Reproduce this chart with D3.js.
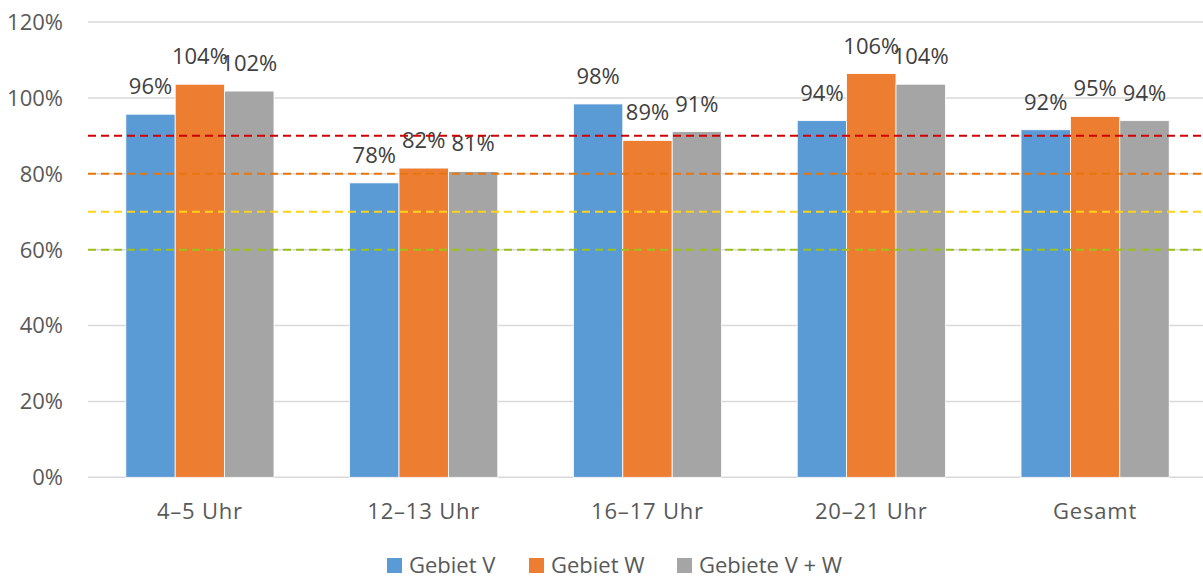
<!DOCTYPE html>
<html lang="de">
<head>
  <meta charset="UTF-8">
  <title>Auslastung nach Zeitfenster</title>
  <script src="https://d3js.org/d3.v7.min.js"></script>
  <style>
    body { margin: 0; background: #fff; }
    text { font-family: "Open Sans", sans-serif; }
    .grid line { stroke: #d9d9d9; stroke-width: 1.5px; }
    .label { fill: #404040; font-size: 22px; }
    .tick-label { fill: #595959; font-size: 22px; }
  </style>
</head>
<body>
  <svg id="chart" width="1203" height="579"></svg>

  <script>
    // Data
    const categories = ["4–5 Uhr", "12–13 Uhr", "16–17 Uhr", "20–21 Uhr", "Gesamt"];
    const seriesNames = ["Gebiet V", "Gebiet W", "Gebiete V + W"];
    const gebietV = [95.7, 77.6, 98.4, 94.0, 91.6];
    const gebietW = [103.6, 81.5, 88.8, 106.4, 95.1];
    const gebieteVW = [101.8, 80.6, 91.1, 103.6, 94.0];
    const yTicks = [0, 20, 40, 60, 80, 100, 120];
    const thresholds = [90, 80, 70, 60];

    const seriesColors = ["#5b9bd5", "#ed7d31", "#a5a5a5"];
    const thresholdColors = ["#d00000", "#e8760e", "#ffd21a", "#9cc21a"];

    const values = [gebietV, gebietW, gebieteVW];
    const rows = categories.map((c, i) => ({
      cat: c,
      vals: seriesNames.map((s, j) => ({ key: s, value: values[j][i], idx: j }))
    }));

    const width = 1203, height = 579;
    const margin = { top: 22, right: -4, bottom: 102, left: 88 };

    const svg = d3.select("#chart");

    const x0 = d3.scaleBand()
      .domain(categories)
      .range([margin.left, width - margin.right])
      .paddingInner(0.338)
      .paddingOuter(0.169);

    const x1 = d3.scaleBand()
      .domain(seriesNames)
      .range([0, x0.bandwidth()]);

    const y = d3.scaleLinear()
      .domain([0, 120])
      .range([height - margin.bottom + 0.3, margin.top]);

    // gridlines
    svg.append("g")
      .attr("class", "grid")
      .selectAll("line")
      .data(yTicks)
      .join("line")
      .attr("x1", margin.left)
      .attr("x2", width)
      .attr("y1", d => y(d))
      .attr("y2", d => y(d));

    // y axis labels
    svg.append("g")
      .selectAll("text")
      .data(yTicks)
      .join("text")
      .attr("class", "tick-label")
      .attr("x", 63)
      .attr("y", d => y(d))
      .attr("dy", "0.36em")
      .attr("text-anchor", "end")
      .text(d => d + "%");

    // bars
    const groups = svg.append("g")
      .selectAll("g")
      .data(rows)
      .join("g")
      .attr("transform", d => `translate(${x0(d.cat)},0)`);

    groups.selectAll("rect")
      .data(d => d.vals)
      .join("rect")
      .attr("x", d => x1(d.key))
      .attr("width", x1.bandwidth())
      .attr("y", d => y(d.value))
      .attr("height", d => y(0) - y(d.value))
      .attr("fill", d => seriesColors[d.idx])
      .attr("stroke", "#fff")
      .attr("stroke-width", 0.8);

    // threshold lines
    svg.append("g")
      .selectAll("line")
      .data(thresholds)
      .join("line")
      .attr("x1", margin.left)
      .attr("x2", width)
      .attr("y1", d => y(d))
      .attr("y2", d => y(d))
      .attr("stroke", (d, i) => thresholdColors[i])
      .attr("stroke-width", 2)
      .attr("stroke-dasharray", "8,5");

    // data labels
    groups.selectAll("text")
      .data(d => d.vals)
      .join("text")
      .attr("class", "label")
      .attr("x", d => x1(d.key) + x1.bandwidth() / 2)
      .attr("y", d => y(d.value) - 20)
      .attr("text-anchor", "middle")
      .text(d => Math.round(d.value) + "%");

    // category labels
    svg.append("g")
      .selectAll("text")
      .data(categories)
      .join("text")
      .attr("class", "tick-label")
      .attr("x", d => x0(d) + x0.bandwidth() / 2)
      .attr("y", 519)
      .attr("text-anchor", "middle")
      .attr("letter-spacing", "0.8px")
      .text(d => d);

    // legend
    const legendX = [387, 529, 677];
    const legend = svg.append("g")
      .selectAll("g")
      .data(seriesNames)
      .join("g")
      .attr("transform", (d, i) => `translate(${legendX[i]},558)`);

    legend.append("rect")
      .attr("width", 15)
      .attr("height", 15)
      .attr("fill", (d, i) => seriesColors[i]);

    legend.append("text")
      .attr("class", "tick-label")
      .attr("x", 22)
      .attr("y", 15)
      .text(d => d);
  </script>
</body>
</html>
